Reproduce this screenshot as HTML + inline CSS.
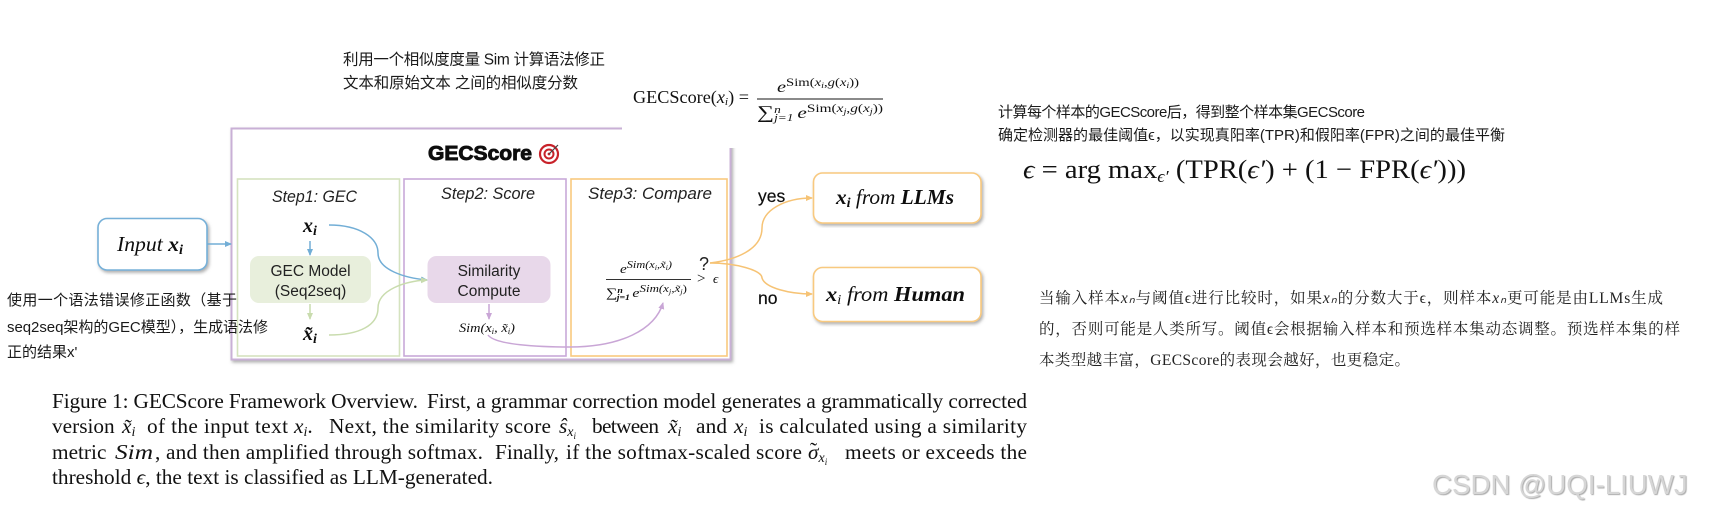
<!DOCTYPE html>
<html lang="zh"><head><meta charset="utf-8"><title>GECScore</title>
<style>
html,body{margin:0;padding:0;background:#fff;width:1709px;height:518px;overflow:hidden}
svg{position:absolute;left:0;top:0}
.zh{font-family:"Liberation Sans","Noto Sans CJK SC",sans-serif;fill:#1a1a1a}
.ser{font-family:"Liberation Serif",serif;fill:#111}
.cap{font-family:"Liberation Serif",serif;font-size:21.3px;fill:#111}
.it{font-style:italic}
.cal{font-family:"Liberation Sans",sans-serif;fill:#222}
#wm{position:absolute;left:1432px;top:470px;font:27.7px/30px "Liberation Sans",sans-serif;color:#d6d6d6;text-shadow:1px 1px 1px #aaa;white-space:nowrap}
</style></head><body>
<svg width="1709" height="518" viewBox="0 0 1709 518" xmlns="http://www.w3.org/2000/svg">
<defs>
<filter id="sh" x="-5%" y="-5%" width="110%" height="115%"><feDropShadow dx="1.5" dy="2" stdDeviation="1.5" flood-color="#777" flood-opacity=".6"/></filter>
<filter id="b"><feGaussianBlur stdDeviation="0.3"/></filter>
<marker id="ab" markerWidth="7" markerHeight="7" refX="6" refY="3" orient="auto" markerUnits="userSpaceOnUse"><path d="M0 0L7 3L0 6Z" fill="#72aed6"/></marker>
<marker id="ag" markerWidth="7" markerHeight="7" refX="6" refY="3" orient="auto" markerUnits="userSpaceOnUse"><path d="M0 0L7 3L0 6Z" fill="#c9dcae"/></marker>
<marker id="ap" markerWidth="7" markerHeight="7" refX="6" refY="3" orient="auto" markerUnits="userSpaceOnUse"><path d="M0 0L7 3L0 6Z" fill="#c9a6d6"/></marker>
<marker id="ao" markerWidth="7" markerHeight="7" refX="6" refY="3" orient="auto" markerUnits="userSpaceOnUse"><path d="M0 0L7 3L0 6Z" fill="#f6c374"/></marker>
</defs>

<g filter="url(#b)">
<rect x="231.5" y="128.5" width="499" height="231" fill="#fff" stroke="#c9b0d6" stroke-width="2" filter="url(#sh)"/>
<rect x="622" y="118" width="125" height="30" fill="#fff"/>
<rect x="237.5" y="179" width="162" height="177" fill="#fff" stroke="#d5e3bf" stroke-width="1.6"/>
<rect x="404" y="179" width="162" height="177" fill="#fff" stroke="#c8a9d8" stroke-width="1.6"/>
<rect x="571" y="179" width="156" height="177" fill="#fff" stroke="#f8c97f" stroke-width="1.6"/>

<rect x="250" y="256" width="121" height="47" rx="9" fill="#e8efdc"/>
<rect x="427.5" y="256" width="123" height="47" rx="9" fill="#e8d8ea"/>

<rect x="98" y="218.5" width="109" height="51.5" rx="9" fill="#fff" stroke="#76b0d8" stroke-width="1.6" filter="url(#sh)"/>
<rect x="813.5" y="173" width="167.5" height="50" rx="9" fill="#fff" stroke="#f8c97f" stroke-width="1.6" filter="url(#sh)"/>
<rect x="813.5" y="267.5" width="167.5" height="54" rx="9" fill="#fff" stroke="#f8c97f" stroke-width="1.6" filter="url(#sh)"/>

<g fill="none" stroke-width="1.5">
<path d="M207 244H231" stroke="#72aed6" marker-end="url(#ab)"/>
<path d="M310 241V255" stroke="#72aed6" marker-end="url(#ab)"/>
<path d="M329 225C360 225 378 238 378 253C378 270 405 278 427 280" stroke="#72aed6" marker-end="url(#ab)"/>
<path d="M310 304V319" stroke="#c9dcae" marker-end="url(#ag)"/>
<path d="M329 335C360 335 378 325 378 308C378 290 405 281 427 280" stroke="#c9dcae" marker-end="url(#ag)"/>
<path d="M489 304V319" stroke="#c9a6d6" marker-end="url(#ap)"/>
<path d="M488 335C495 345 540 347 570 347C620 347 655 330 663 303" stroke="#c9a6d6" marker-end="url(#ap)"/>
<path d="M710 263C735 260 762 250 762 228C762 210 785 198 812 198" stroke="#f6c374" marker-end="url(#ao)"/>
<path d="M710 263C735 263 762 270 762 278C765 288 790 294 812 294" stroke="#f6c374" marker-end="url(#ao)"/>
</g>

<text x="428" y="160" textLength="104" lengthAdjust="spacingAndGlyphs" font-family="Liberation Sans,sans-serif" font-weight="700" font-size="20" fill="#111" stroke="#111" stroke-width=".9">GECScore</text>
<circle cx="549" cy="154" r="9" fill="#fff" stroke="#c8202a" stroke-width="2.2"/>
<circle cx="549" cy="154" r="4.5" fill="#fff" stroke="#c8202a" stroke-width="2"/>
<circle cx="549" cy="154" r="1.4" fill="#c8202a"/>
<path d="M549 154L558 145" stroke="#444" stroke-width="1.2"/>

<text class="cal it" x="272" y="202" font-size="16.500" textLength="85" lengthAdjust="spacingAndGlyphs">Step1: GEC</text>
<text class="cal it" x="441" y="199" font-size="16.500" textLength="94" lengthAdjust="spacingAndGlyphs">Step2: Score</text>
<text class="cal it" x="588" y="199" font-size="16.500" textLength="124" lengthAdjust="spacingAndGlyphs">Step3: Compare</text>

<text class="cal" x="310.500" y="276" font-size="15.500" text-anchor="middle">GEC Model</text>
<text class="cal" x="310.500" y="296" font-size="15.500" text-anchor="middle">(Seq2seq)</text>
<text class="cal" x="489" y="276" font-size="15.500" text-anchor="middle">Similarity</text>
<text class="cal" x="489" y="296" font-size="15.500" text-anchor="middle">Compute</text>

<text class="ser it" x="303" y="232" font-size="20" font-weight="700">x<tspan dy="3" font-size="14">i</tspan></text>
<text class="ser it" x="303" y="340" font-size="20" font-weight="700">x̃<tspan dy="3" font-size="14">i</tspan></text>
<text class="ser it" x="459" y="332" font-size="13" textLength="56" lengthAdjust="spacingAndGlyphs">Sim(x<tspan dy="2" font-size="8">i</tspan><tspan dy="-2">, x̃</tspan><tspan dy="2" font-size="8">i</tspan><tspan dy="-2">)</tspan></text>

<text class="ser it" x="620" y="273" font-size="13" textLength="52" lengthAdjust="spacingAndGlyphs">e<tspan dy="-5" font-size="10.500">Sim(x</tspan><tspan dy="2" font-size="7">i</tspan><tspan dy="-2" font-size="10.500">,x̃</tspan><tspan dy="2" font-size="7">i</tspan><tspan dy="-2" font-size="10.500">)</tspan></text>
<line x1="606" y1="279.500" x2="691" y2="279.500" stroke="#333" stroke-width="1"/>
<text class="ser" x="606" y="297" font-size="13" textLength="81" lengthAdjust="spacingAndGlyphs">∑<tspan dy="-4" font-size="8" font-style="italic" font-weight="700">n</tspan><tspan dx="-5" dy="7" font-size="8" font-style="italic" font-weight="700">j=1</tspan><tspan dx="2" dy="-3" font-style="italic">e</tspan><tspan dy="-5" font-size="10.500" font-style="italic">Sim(x</tspan><tspan dy="2" font-size="7" font-style="italic">j</tspan><tspan dy="-2" font-size="10.500" font-style="italic">,x̃</tspan><tspan dy="2" font-size="7" font-style="italic">j</tspan><tspan dy="-2" font-size="10.500">)</tspan></text>
<text class="cal" x="699" y="270" font-size="18">?</text>
<text class="ser" x="697" y="283" font-size="15">&gt;</text>
<text class="ser it" x="713" y="283" font-size="13">ϵ</text>

<text class="ser it" x="117" y="251" font-size="21" textLength="66" lengthAdjust="spacingAndGlyphs">Input <tspan font-weight="700">x</tspan><tspan dy="3" font-size="14" font-weight="700">i</tspan></text>
<text class="ser it" x="836" y="204" font-size="21" font-weight="700" textLength="118" lengthAdjust="spacingAndGlyphs">x<tspan dy="3" font-size="14">i</tspan><tspan dy="-3" font-weight="400"> from </tspan>LLMs</text>
<text class="ser it" x="826" y="301" font-size="21" font-weight="700" textLength="139" lengthAdjust="spacingAndGlyphs">x<tspan dy="3" font-size="14" font-weight="400">i</tspan><tspan dy="-3" font-weight="400"> from </tspan>Human</text>
<text x="758" y="202" font-family="Liberation Sans,sans-serif" font-size="17.500" fill="#111" stroke="#111" stroke-width=".2">yes</text>
<text x="758" y="304" font-family="Liberation Sans,sans-serif" font-size="17.500" fill="#111" stroke="#111" stroke-width=".2">no</text>
</g>

<text class="zh" x="343" y="64.500" font-size="15.500" textLength="262">利用一个相似度度量 Sim 计算语法修正</text>
<text class="zh" x="343" y="88" font-size="15.500" textLength="235">文本和原始文本 之间的相似度分数</text>

<text class="ser" x="633" y="103" font-size="17.500" textLength="116" lengthAdjust="spacingAndGlyphs">GECScore(<tspan font-style="italic">x</tspan><tspan dy="2" font-size="11" font-style="italic">i</tspan><tspan dy="-2">)</tspan> =</text>
<text class="ser" x="777" y="92" font-size="16" textLength="82" lengthAdjust="spacingAndGlyphs"><tspan font-style="italic">e</tspan><tspan dy="-6" font-size="11.500">Sim(</tspan><tspan font-size="11.500" font-style="italic">x</tspan><tspan dy="2" font-size="8" font-style="italic">i</tspan><tspan dy="-2" font-size="11.500">,</tspan><tspan font-size="11.500" font-style="italic">g</tspan><tspan font-size="11.500">(</tspan><tspan font-size="11.500" font-style="italic">x</tspan><tspan dy="2" font-size="8" font-style="italic">i</tspan><tspan dy="-2" font-size="11.500">))</tspan></text>
<line x1="757" y1="99" x2="883" y2="99" stroke="#444" stroke-width="1.2"/>
<text class="ser" x="757" y="118" font-size="18" textLength="126" lengthAdjust="spacingAndGlyphs">∑<tspan dy="-5" font-size="10" font-style="italic">n</tspan><tspan dx="-5" dy="8" font-size="10" font-style="italic">j=1</tspan><tspan dx="3" dy="-3" font-size="16" font-style="italic">e</tspan><tspan dy="-6" font-size="11.500">Sim(</tspan><tspan font-size="11.500" font-style="italic">x</tspan><tspan dy="2" font-size="8" font-style="italic">j</tspan><tspan dy="-2" font-size="11.500">,</tspan><tspan font-size="11.500" font-style="italic">g</tspan><tspan font-size="11.500">(</tspan><tspan font-size="11.500" font-style="italic">x</tspan><tspan dy="2" font-size="8" font-style="italic">j</tspan><tspan dy="-2" font-size="11.500">))</tspan></text>

<text class="zh" x="998" y="117" font-size="15" textLength="367">计算每个样本的GECScore后，得到整个样本集GECScore</text>
<text class="zh" x="998" y="140" font-size="15" textLength="507">确定检测器的最佳阈值ϵ，以实现真阳率(TPR)和假阳率(FPR)之间的最佳平衡</text>
<text class="ser" x="1023" y="178" font-size="26.500" textLength="443" lengthAdjust="spacingAndGlyphs"><tspan font-style="italic">ϵ</tspan> = arg max<tspan dy="4" font-size="17" font-style="italic">ϵ′</tspan><tspan dy="-4"> (TPR(</tspan><tspan font-style="italic">ϵ′</tspan>) + (1 − FPR(<tspan font-style="italic">ϵ′</tspan>)))</text>

<text class="zh" x="7" y="305" font-size="15" textLength="230">使用一个语法错误修正函数（基于</text>
<text class="zh" x="7" y="332" font-size="15" textLength="261">seq2seq架构的GEC模型），生成语法修</text>
<text class="zh" x="7" y="357" font-size="15">正的结果x'</text>

<g font-family="Liberation Serif,'Noto Serif CJK SC','Noto Sans CJK SC',serif" fill="#222">
<text x="1039" y="303" font-size="15.500" textLength="624" lengthAdjust="spacing">当输入样本<tspan font-style="italic">xₙ</tspan>与阈值ϵ进行比较时，如果<tspan font-style="italic">xₙ</tspan>的分数大于ϵ，则样本<tspan font-style="italic">xₙ</tspan>更可能是由LLMs生成</text>
<text x="1039" y="334" font-size="15.500" textLength="641" lengthAdjust="spacing">的，否则可能是人类所写。阈值ϵ会根据输入样本和预选样本集动态调整。预选样本集的样</text>
<text x="1039" y="365" font-size="15.500" textLength="371" lengthAdjust="spacing">本类型越丰富，GECScore的表现会越好，也更稳定。</text>
</g>

<text class="cap" x="52" y="408" textLength="366">Figure 1: GECScore Framework Overview.</text>
<text class="cap" x="427" y="408" textLength="600">First, a grammar correction model generates a grammatically corrected</text>

<text class="cap" x="52" y="433">version</text>
<text class="cap it" x="122" y="433">x̃<tspan dy="3" font-size="14">i</tspan></text>
<text class="cap" x="147" y="433" textLength="141">of the input text</text>
<text class="cap it" x="294" y="433">x<tspan dy="3" font-size="14">i</tspan><tspan dy="-3" font-style="normal">.</tspan></text>
<text class="cap" x="329" y="433" textLength="222">Next, the similarity score</text>
<text class="cap it" x="559" y="433">ŝ<tspan dy="3" font-size="14">x</tspan><tspan dy="3" font-size="9">i</tspan></text>
<text class="cap" x="592" y="433" textLength="67">between</text>
<text class="cap it" x="668" y="433">x̃<tspan dy="3" font-size="14">i</tspan></text>
<text class="cap" x="696" y="433" textLength="31">and</text>
<text class="cap it" x="734" y="433">x<tspan dy="3" font-size="14">i</tspan></text>
<text class="cap" x="759" y="433" textLength="268">is calculated using a similarity</text>

<text class="cap" x="52" y="459">metric</text>
<text class="cap it" x="115" y="459" textLength="38" lengthAdjust="spacingAndGlyphs">Sim</text>
<text class="cap" x="155" y="459" textLength="328">, and then amplified through softmax.</text>
<text class="cap" x="495" y="459" textLength="64">Finally,</text>
<text class="cap" x="566" y="459" textLength="236">if the softmax-scaled score</text>
<text class="cap it" x="808" y="459">σ<tspan dy="3" font-size="14">x</tspan><tspan dy="3" font-size="9">i</tspan></text>
<text class="cap" x="810" y="457">˜</text>
<text class="cap" x="845" y="459" textLength="182">meets or exceeds the</text>

<text class="cap" x="52" y="484" textLength="441">threshold <tspan font-style="italic">ϵ</tspan>, the text is classified as LLM-generated.</text>
</svg>
<div id="wm">CSDN @UQI-LIUWJ</div>
</body></html>
